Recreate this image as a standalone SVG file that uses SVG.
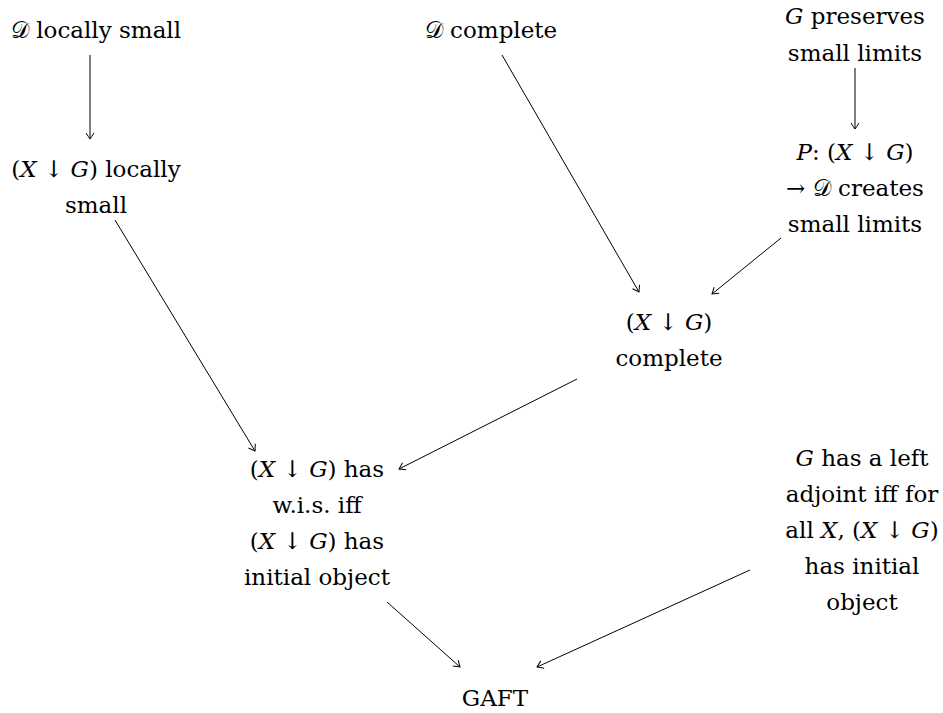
<svg xmlns="http://www.w3.org/2000/svg" width="943" height="713" viewBox="0 0 943 713">
<style>
.t text{font-size:23px;fill:#000;text-anchor:middle;font-family:'DejaVu Serif',serif}
.i{font-style:italic}
.c line{stroke:#000;stroke-width:1;fill:none}
</style>
<defs>
<marker id="ah" viewBox="-8 -5 10 10" markerWidth="10" markerHeight="10" refX="0" refY="0" orient="auto" markerUnits="userSpaceOnUse">
<path d="M-6,-4 Q-1.5,-1 0,0 Q-1.5,1 -6,4" fill="none" stroke="#000" stroke-width="1"/>
</marker>
</defs>
<rect width="943" height="713" fill="#fff"/>
<g class="t">
<g id="n1"><text x="96" y="38">𝒟 locally small</text></g>
<g id="n2"><text x="96" y="177">(<tspan class="i">X</tspan> ↓ <tspan class="i">G</tspan>) locally</text><text x="96" y="213">small</text></g>
<g id="n3"><text x="491" y="38">𝒟 complete</text></g>
<g id="n4"><text x="855" y="24"><tspan class="i">G</tspan> preserves</text><text x="855" y="61">small limits</text></g>
<g id="n5"><text x="855" y="160"><tspan class="i">P</tspan>: (<tspan class="i">X</tspan> ↓ <tspan class="i">G</tspan>)</text><text x="855" y="196">→ 𝒟 creates</text><text x="855" y="232">small limits</text></g>
<g id="n6"><text x="669" y="330">(<tspan class="i">X</tspan> ↓ <tspan class="i">G</tspan>)</text><text x="669" y="366">complete</text></g>
<g id="n7"><text x="317" y="477">(<tspan class="i">X</tspan> ↓ <tspan class="i">G</tspan>) has</text><text x="317" y="513">w.i.s. iff</text><text x="317" y="549">(<tspan class="i">X</tspan> ↓ <tspan class="i">G</tspan>) has</text><text x="317" y="585">initial object</text></g>
<g id="n8"><text x="862" y="466"><tspan class="i">G</tspan> has a left</text><text x="862" y="502">adjoint iff for</text><text x="862" y="538">all <tspan class="i">X</tspan>, (<tspan class="i">X</tspan> ↓ <tspan class="i">G</tspan>)</text><text x="862" y="574">has initial</text><text x="862" y="610">object</text></g>
<g id="n9"><text x="495" y="706">GAFT</text></g>
</g>
<g class="c" id="connectors">
<line x1="90" y1="55" x2="90" y2="139" marker-end="url(#ah)"/>
<line x1="855" y1="68" x2="855" y2="129" marker-end="url(#ah)"/>
<line x1="502" y1="55" x2="639" y2="292" marker-end="url(#ah)"/>
<line x1="781" y1="238" x2="712" y2="294" marker-end="url(#ah)"/>
<line x1="115" y1="220" x2="255" y2="451" marker-end="url(#ah)"/>
<line x1="577" y1="379" x2="399" y2="469" marker-end="url(#ah)"/>
<line x1="387" y1="602" x2="460" y2="667" marker-end="url(#ah)"/>
<line x1="750" y1="570" x2="537" y2="667" marker-end="url(#ah)"/>
</g>
</svg>
